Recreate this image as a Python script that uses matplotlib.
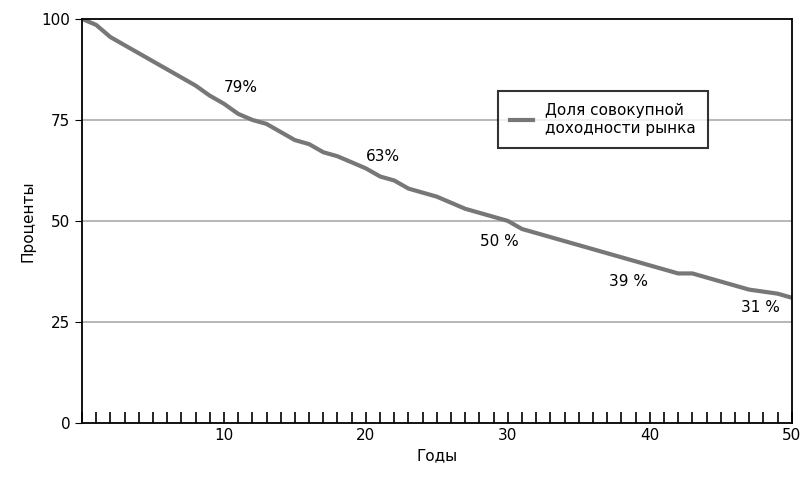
import matplotlib.pyplot as plt
import numpy as np

years = np.arange(0, 51)
share = [100, 98.5, 95.5, 93.5, 91.5, 89.5, 87.5, 85.5, 83.5, 81, 79,
         76.5, 75, 74, 72, 70, 69, 67, 66, 64.5, 63,
         61, 60, 58, 57, 56, 54.5, 53, 52, 51, 50,
         48, 47, 46, 45, 44, 43, 42, 41, 40, 39,
         38, 37, 37, 36, 35, 34, 33, 32.5, 32, 31]
labels = [(11.2, 83, '79%'), (21.2, 66, '63%'), (29.4, 45, '50 %'),
          (38.5, 35, '39 %'), (47.8, 28.5, '31 %')]

fig = plt.figure(figsize=(8.12, 4.97), dpi=100)
ax = fig.add_axes([0.101, 0.149, 0.874, 0.813])

for yv in (25, 50, 75):
    ax.axhline(yv, color='#aaaaaa', lw=1.2, zorder=0)
ax.plot(years, share, color='#777777', lw=3, label='Доля совокупной\nдоходности рынка')

for x, y, t in labels:
    ax.text(x, y, t, ha='center', va='center', fontsize=11)

ax.set_xlim(0, 50)
ax.set_ylim(0, 100)
ax.set_xticks([10, 20, 30, 40, 50])
ax.set_xticks(np.arange(0, 51), minor=True)
ax.set_yticks([0, 25, 50, 75, 100])
ax.tick_params(axis='x', which='both', direction='in', length=8, width=1.2, labelsize=11)
ax.tick_params(axis='y', direction='out', length=5, labelsize=11)
for s in ax.spines.values():
    s.set_linewidth(1.3)
ax.set_xlabel('Годы', fontsize=11)
ax.set_ylabel('Проценты', fontsize=11)

leg = ax.legend(loc='upper left', bbox_to_anchor=(0.575, 0.84), fancybox=False,
                edgecolor='black', fontsize=11, handlelength=1.5, borderpad=0.8)
leg.get_frame().set_linewidth(1.5)

fig.savefig('out.png', dpi=100)
